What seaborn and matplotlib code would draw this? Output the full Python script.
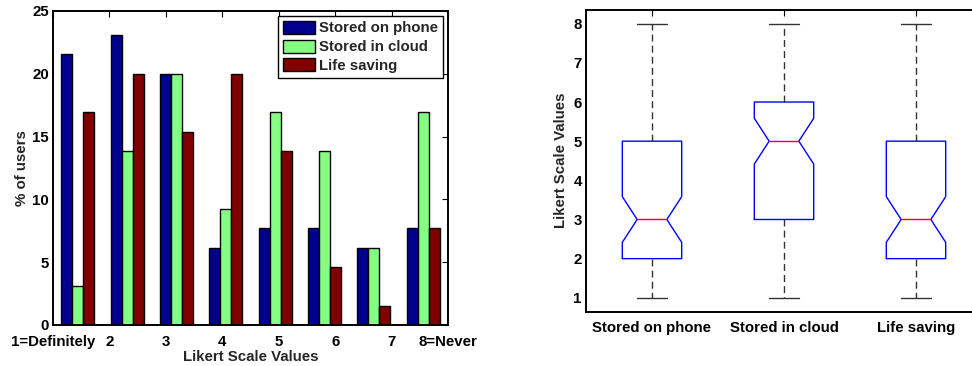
import numpy as np
import pandas as pd
import matplotlib
matplotlib.use("Agg")
import matplotlib.pyplot as plt
import seaborn as sns

# Survey responses (number of users per Likert value, 65 respondents)
likert_values = [1, 2, 3, 4, 5, 6, 7, 8]
tick_labels = ["1=Definitely", "2", "3", "4", "5", "6", "7", "8=Never"]
series_names = ["Stored on phone", "Stored in cloud", "Life saving"]
counts_phone = [14, 15, 13, 4, 5, 5, 4, 5]
counts_cloud = [2, 9, 13, 6, 11, 9, 4, 11]
counts_life = [11, 13, 10, 13, 9, 3, 1, 5]
bar_colors = ["#00008f", "#84ff84", "#800000"]

sns.set_style("white")
plt.rcParams["font.family"] = ["Liberation Sans", "DejaVu Sans"]
plt.rcParams["font.weight"] = "bold"
plt.rcParams["axes.labelweight"] = "bold"
FS = 10.8

all_counts = [counts_phone, counts_cloud, counts_life]
n_users = sum(counts_phone)

# Long-form table for the grouped bar chart
bar_rows = []
for name, counts in zip(series_names, all_counts):
    for lab, c in zip(tick_labels, counts):
        bar_rows.append({"value": lab, "series": name, "pct": 100.0 * c / n_users})
bar_df = pd.DataFrame(bar_rows)

# Individual responses for the box plot
box_rows = []
for name, counts in zip(series_names, all_counts):
    for v in np.repeat(likert_values, counts):
        box_rows.append({"item": name, "score": v})
box_df = pd.DataFrame(box_rows)

fig = plt.figure(figsize=(9.72, 3.66), dpi=100)
ax1 = fig.add_axes([53 / 972, 1 - 325 / 366, 395 / 972, 314 / 366])
ax2 = fig.add_axes([586 / 972, 1 - 311.5 / 366, 396 / 972, 301.5 / 366])

# Left: grouped bars
sns.barplot(data=bar_df, x="value", y="pct", hue="series", order=tick_labels,
            hue_order=series_names, palette=bar_colors, saturation=1,
            width=0.67, edgecolor="black", linewidth=1.0, errorbar=None, ax=ax1)
ax1.set_xlim(-0.5, 7.5)
ax1.set_ylim(0, 25)
ax1.set_yticks([0, 5, 10, 15, 20, 25])
ax1.set_xticks(-0.5 + np.arange(8) * 8 / 7)
ax1.set_xticklabels(tick_labels)
ax1.set_xlabel("Likert Scale Values", fontsize=FS, fontweight="bold", labelpad=1)
ax1.set_ylabel("% of users", fontsize=FS, fontweight="bold", labelpad=2)
leg = ax1.legend(loc="upper right", fontsize=FS, frameon=True, fancybox=False,
                 edgecolor="black", framealpha=1, borderaxespad=0.35,
                 handlelength=2.15, handleheight=0.95, handletextpad=0.3,
                 labelspacing=0.28, borderpad=0.3)
leg.get_frame().set_linewidth(1.0)
for t in leg.get_texts():
    t.set_fontweight("bold")

# Right: notched box plots
sns.boxplot(data=box_df, x="item", y="score", order=series_names, notch=True,
            width=0.45, fill=False, color="blue", saturation=1, linewidth=1.0,
            whis=1.5, ax=ax2,
            boxprops={"color": "blue"},
            medianprops={"color": "red", "linewidth": 1.0},
            whiskerprops={"color": "#333333", "linestyle": (0, (5, 3)), "linewidth": 1.0},
            capprops={"color": "#333333", "linewidth": 1.0})
ax2.set_xlim(-0.5, 2.5)
ax2.set_ylim(0.65, 8.35)
ax2.set_yticks(range(1, 9))
ax2.set_xlabel("")
ax2.set_ylabel("Likert Scale Values", fontsize=FS, fontweight="bold", labelpad=4)

for ax in (ax1, ax2):
    ax.tick_params(direction="in", top=True, right=True, length=4, width=0.8,
                   labelsize=FS, colors="black")
    ax.tick_params(axis="y", pad=3)
    for lab in ax.get_xticklabels() + ax.get_yticklabels():
        lab.set_fontweight("bold")
    for sp in ax.spines.values():
        sp.set_visible(True)
        sp.set_color("black")
        sp.set_linewidth(1.4)
ax1.tick_params(axis="x", pad=7)
ax2.tick_params(axis="x", pad=7)

fig.savefig("out.png", dpi=100)
